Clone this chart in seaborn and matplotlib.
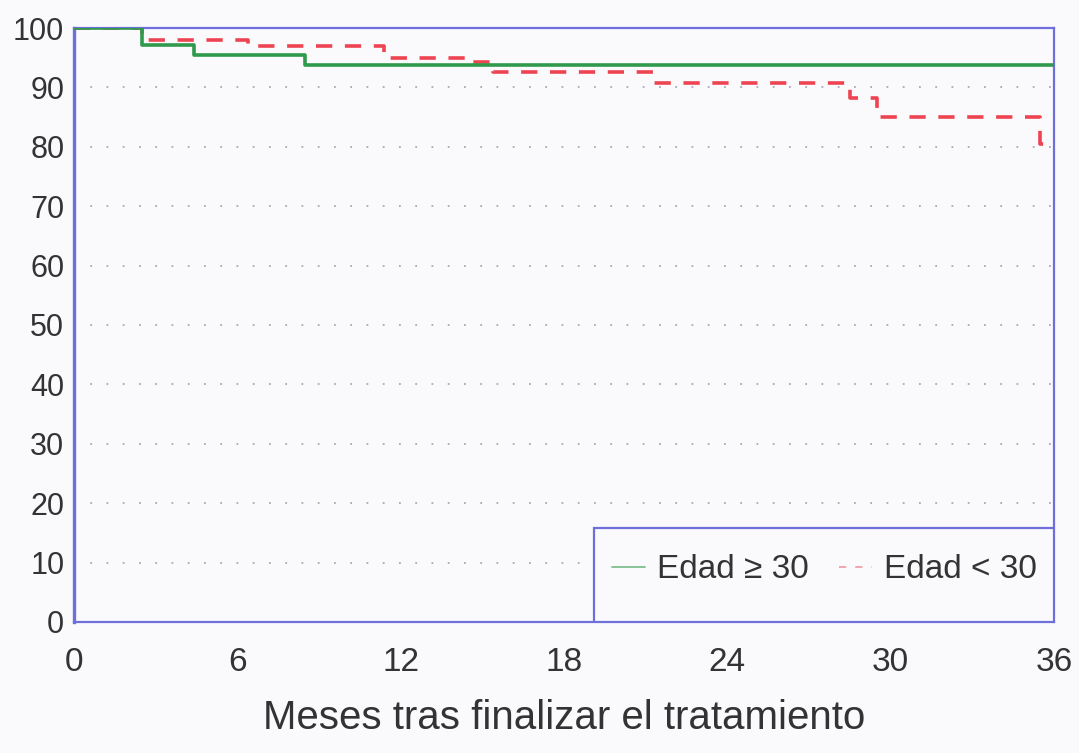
import matplotlib
matplotlib.use("Agg")
import matplotlib.pyplot as plt
import seaborn as sns
import pandas as pd
from matplotlib.ticker import MultipleLocator
from matplotlib.patches import Rectangle

# Data (Kaplan-Meier step curves)
months_ge30 = [0, 2.5, 4.4, 8.5, 36]
surv_ge30 = [100, 97.1, 95.4, 93.7, 93.7]
months_lt30 = [0, 2.5, 6.4, 11.4, 14.4, 15.4, 21.3, 28.5, 29.5, 35.5, 36]
surv_lt30 = [100, 97.9, 96.9, 94.9, 94.2, 92.6, 90.7, 88.2, 85.1, 80.5, 80.5]
labels = ["Edad \u2265 30", "Edad < 30"]
xticks = [0, 6, 12, 18, 24, 30, 36]
yticks = list(range(0, 101, 10))

df = pd.concat([
    pd.DataFrame({"mes": months_ge30, "sv": surv_ge30, "grupo": labels[0]}),
    pd.DataFrame({"mes": months_lt30, "sv": surv_lt30, "grupo": labels[1]}),
])

sns.set_style("white")
plt.rcParams["font.family"] = ["Liberation Sans", "DejaVu Sans"]

bg = "#fafafd"
fig = plt.figure(figsize=(10.79, 7.53), dpi=100, facecolor=bg)
ax = fig.add_axes([0.0686, 0.174, 0.9082, 0.7888])
ax.set_facecolor(bg)

frame = "#6f6fdc"
green = "#2f9a4c"
red = "#ee4452"
txt = "#333333"

sns.lineplot(data=df[df.grupo == labels[0]], x="mes", y="sv", ax=ax,
             drawstyle="steps-post", color=green, lw=2.6, label=labels[0],
             zorder=3)
sns.lineplot(data=df[df.grupo == labels[1]], x="mes", y="sv", ax=ax,
             drawstyle="steps-post", color=red, lw=2.6, label=labels[1],
             zorder=2)
ax.lines[1].set_dashes([4.5, 3.5])

ax.set_xlim(0, 36)
ax.set_ylim(0, 100)
ax.set_xticks(xticks)
ax.set_yticks(yticks)
ax.xaxis.set_minor_locator(MultipleLocator(1))
ax.tick_params(axis="x", which="major", direction="out", length=9, width=1,
               color="#9999cc", labelsize=24, pad=9, labelcolor=txt)
ax.tick_params(axis="x", which="minor", direction="out", length=5, width=1,
               color="#9999cc")
ax.tick_params(axis="y", which="major", direction="out", length=4, width=1,
               color="#9999cc", labelsize=22, pad=3, labelcolor=txt)

for y in yticks[1:-1]:
    ax.axhline(y, color="#a8a8bc", lw=1.3, ls=(0, (1, 8)), zorder=0)

for s in ax.spines.values():
    s.set_color(frame)
    s.set_linewidth(1.6)
ax.spines["left"].set_linewidth(2.4)

ax.set_xlabel("Meses tras finalizar el tratamiento", fontsize=29,
              color=txt, labelpad=15)
ax.set_ylabel("")

# legend box
ax.add_patch(Rectangle((0.531, 0.0), 0.469, 0.158, transform=ax.transAxes,
                       facecolor=bg, edgecolor=frame, lw=1.6, zorder=4))
leg = ax.legend(loc="center left", bbox_to_anchor=(0.549, 0.088),
                ncol=2, fontsize=24, frameon=False,
                handlelength=1.0, handletextpad=0.35,
                columnspacing=0.9, borderaxespad=0, borderpad=0)
leg.set_zorder(5)
for t in leg.get_texts():
    t.set_color(txt)
for h in leg.get_lines():
    h.set_linewidth(1.3)
leg.get_lines()[0].set_color("#7fbf8f")
leg.get_lines()[1].set_color("#f0a0a8")
leg.get_lines()[1].set_dashes([4, 5])

fig.savefig("out.png", dpi=100, facecolor=fig.get_facecolor())
